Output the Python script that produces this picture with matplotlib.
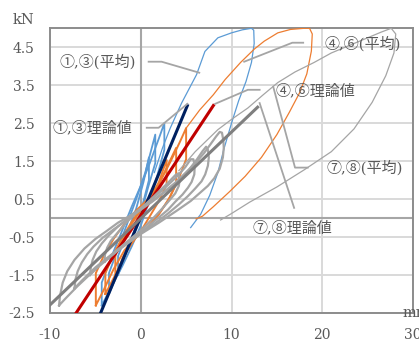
import matplotlib
matplotlib.use("Agg")
import matplotlib.pyplot as plt

# ---- data (kN vs mm) ----
# ①,③ average - small cycles and final big cycle
blue_loops = [
    [(-4.3, -2.3), (-4.3, -1.7), (-3.2, -1.0), (-2.0, -0.3), (-1.0, 0.3), (0.0, 0.85),
     (1.0, 1.45), (2.0, 2.1), (2.6, 2.5), (2.6, 1.8), (1.8, 1.1), (1.0, 0.5), (0.0, -0.2),
     (-1.0, -0.75), (-2.0, -1.25), (-3.2, -1.8), (-4.3, -2.3)],
    [(-3.5, -2.0), (-3.5, -1.45), (-2.5, -0.8), (-1.5, -0.15), (-0.5, 0.5), (0.5, 1.2),
     (1.6, 2.2), (1.6, 1.45), (0.8, 0.8), (0.0, 0.1), (-1.0, -0.55), (-2.2, -1.25),
     (-3.5, -2.0)],
    [(-2.5, -1.5), (-2.5, -1.0), (-1.5, -0.4), (-0.5, 0.25), (0.3, 0.95), (0.9, 1.6),
     (0.9, 1.0), (0.2, 0.35), (-0.8, -0.4), (-1.7, -0.95), (-2.5, -1.5)],
]
blue_big = [(1.5, 1.2), (2.4, 1.85), (3.25, 2.37), (4.5, 3.03), (6.15, 3.78), (7.07, 4.39),
            (8.5, 4.75), (10.0, 4.88), (11.2, 4.96), (12.2, 5.0), (12.45, 4.95), (12.5, 4.6),
            (12.2, 4.1), (11.6, 3.6), (10.8, 3.1), (10.0, 2.5), (9.2, 1.85), (8.5, 1.2),
            (7.6, 0.6), (6.6, 0.1), (5.5, -0.25)]

# ④,⑥ average
orange_loops = [
    [(-4.95, -2.3), (-4.95, -1.45), (-4.0, -0.95), (-3.0, -0.55), (-1.8, -0.15), (-0.5, 0.2),
     (0.8, 0.5), (2.0, 0.9), (3.3, 1.5), (4.3, 2.0), (5.0, 2.37), (5.0, 1.55), (4.2, 1.05),
     (3.2, 0.55), (2.0, 0.1), (0.8, -0.25), (-0.5, -0.5), (-1.8, -0.85), (-3.0, -1.35),
     (-4.1, -1.9), (-4.95, -2.3)],
    [(-3.9, -2.0), (-3.9, -1.45), (-3.0, -0.95), (-2.0, -0.5), (-1.0, -0.1), (0.0, 0.25),
     (1.0, 0.55), (2.0, 0.9), (3.1, 1.45), (3.9, 1.85), (3.9, 0.9), (3.0, 0.45), (1.8, 0.05),
     (0.5, -0.3), (-0.5, -0.5), (-1.5, -0.85), (-2.6, -1.4), (-3.9, -2.0)],
    [(-2.8, -1.58), (-2.8, -0.97), (-2.0, -0.6), (-1.0, -0.15), (0.0, 0.2), (1.0, 0.5),
     (2.0, 0.95), (2.85, 1.53), (2.85, 0.88), (2.0, 0.45), (1.0, 0.05), (0.0, -0.35),
     (-1.0, -0.65), (-2.0, -1.05), (-2.8, -1.58)],
]
orange_big = [(5.0, 2.37), (6.5, 2.85), (8.0, 3.25), (9.3, 3.65), (11.0, 4.1), (12.5, 4.45),
              (13.6, 4.66), (15.1, 4.88), (16.5, 4.97), (18.0, 5.0), (18.6, 5.0), (18.9, 4.85),
              (18.8, 4.4), (18.3, 3.8), (17.5, 3.3), (16.4, 2.8), (15.0, 2.2), (13.3, 1.6),
              (11.5, 1.1), (9.8, 0.7), (8.0, 0.3), (6.8, 0.05), (6.1, -0.02)]

# ⑦,⑧ average
gray_loops = [
    [(-9.0, -2.3), (-8.9, -2.05), (-8.6, -1.7), (-8.1, -1.4), (-7.3, -1.1), (-6.2, -0.8),
     (-5.0, -0.55), (-3.7, -0.33), (-2.5, -0.12), (-1.2, 0.06), (0.0, 0.25), (1.3, 0.45),
     (2.5, 0.68), (3.8, 0.93), (5.0, 1.2), (6.1, 1.47), (7.0, 1.72), (7.7, 1.95), (8.3, 2.15),
     (8.7, 2.27), (8.95, 2.25), (9.1, 2.05), (9.15, 1.85), (9.05, 1.6), (8.7, 1.3),
     (8.1, 1.05), (7.4, 0.85), (6.5, 0.66), (5.5, 0.45), (4.0, 0.2), (2.0, -0.12),
     (0.0, -0.42), (-2.5, -0.85), (-5.0, -1.35), (-7.0, -1.8), (-8.3, -2.12), (-9.0, -2.3)],
    [(-7.3, -1.85), (-7.2, -1.62), (-6.95, -1.4), (-6.5, -1.17), (-5.9, -0.95), (-5.2, -0.75),
     (-4.2, -0.52), (-3.0, -0.3), (-1.5, -0.05), (0.0, 0.22), (1.3, 0.44), (2.5, 0.66),
     (3.5, 0.86), (4.5, 1.08), (5.4, 1.3), (6.2, 1.55), (6.8, 1.76), (7.2, 1.88), (7.4, 1.8),
     (7.5, 1.6), (7.4, 1.38), (7.1, 1.15), (6.7, 0.97), (6.0, 0.78), (5.2, 0.58),
     (4.2, 0.36), (3.0, 0.12), (1.5, -0.15), (0.0, -0.4), (-2.5, -0.82), (-5.0, -1.3),
     (-6.5, -1.65), (-7.3, -1.85)],
    [(-5.6, -1.5), (-5.5, -1.3), (-5.3, -1.1), (-4.9, -0.88), (-4.3, -0.67), (-3.5, -0.45),
     (-2.5, -0.22), (-1.5, -0.02), (0.0, 0.25), (1.0, 0.45), (2.0, 0.66), (3.0, 0.87),
     (4.0, 1.1), (4.9, 1.34), (5.5, 1.55), (5.8, 1.55), (5.95, 1.38), (5.9, 1.15),
     (5.6, 0.95), (5.2, 0.8), (4.6, 0.62), (3.8, 0.43), (3.0, 0.22), (2.0, 0.02),
     (1.0, -0.18), (0.0, -0.38), (-2.0, -0.75), (-4.0, -1.12), (-5.0, -1.35), (-5.6, -1.5)],
    [(-4.0, -1.15), (-3.95, -0.97), (-3.7, -0.78), (-3.3, -0.6), (-2.6, -0.4), (-1.6, -0.12),
     (-0.8, 0.07), (0.0, 0.25), (1.0, 0.47), (2.0, 0.7), (3.0, 0.93), (3.8, 1.13),
     (4.15, 1.18), (4.3, 1.05), (4.2, 0.85), (3.8, 0.65), (3.2, 0.48), (2.4, 0.26),
     (1.5, 0.03), (0.7, -0.16), (0.0, -0.33), (-1.0, -0.52), (-2.0, -0.72), (-3.0, -0.93),
     (-4.0, -1.15)],
]
gray_big = [(4.2, 1.25), (6.0, 1.75), (8.5, 2.33), (10.0, 2.6), (11.8, 2.9), (13.5, 3.25),
            (15.1, 3.57), (17.0, 3.85), (19.1, 4.1), (21.0, 4.35), (23.0, 4.55), (25.0, 4.75),
            (26.5, 4.9), (27.6, 5.0), (28.1, 4.85), (27.9, 4.35), (27.0, 3.75), (25.5, 3.05),
            (23.5, 2.35), (21.0, 1.75), (18.0, 1.27), (15.0, 0.82), (12.0, 0.42), (10.0, 0.12),
            (8.8, -0.05)]

# theoretical lines
theory_13 = ([-4.6, 5.2], [-2.6, 3.0])
theory_46 = ([-7.4, 8.1], [-2.6, 3.0])
theory_78 = ([-10.5, 13.0], [-2.4, 2.95])

# labels with their leader lines
labels = ["①,③(平均)", "①,③理論値", "④,⑥(平均)", "④,⑥理論値", "⑦,⑧(平均)", "⑦,⑧理論値"]
label_pos = [(-8.96, 4.12), (-9.7, 2.38), (20.3, 4.6), (14.9, 3.36), (20.5, 1.33), (12.3, -0.26)]
leaders = [
    [(0.87, 4.12), (2.3, 4.12), (6.45, 3.83)],
    [(0.66, 2.38), (1.97, 2.38), (5.14, 3.01)],
    [(17.9, 4.62), (16.7, 4.62), (11.4, 4.12)],
    [(13.1, 3.38), (11.8, 3.38), (8.2, 3.01)],
    [(18.4, 1.33), (17.0, 1.33), (14.6, 3.46)],
    [(16.9, 0.27), (13.1, 3.03)],
]

yticks = [-2.5, -1.5, -0.5, 0.5, 1.5, 2.5, 3.5, 4.5]
xticks = [-10, 0, 10, 20, 30]

txt_col = '#595959'
jp_font = ['DejaVu Serif', 'Noto Sans CJK JP']

fig = plt.figure(figsize=(4.19, 3.45), dpi=100)
ax = fig.add_axes([50 / 419, 1 - 313 / 345, 363 / 419, (313 - 28.3) / 345])

ax.set_xlim(-10, 30)
ax.set_ylim(-2.5, 5)
ax.set_yticks(yticks)
ax.set_xticks(xticks)
ax.set_yticklabels([str(v) for v in yticks])
ax.set_xticklabels([str(v) for v in xticks])
ax.tick_params(length=0, pad=11, labelsize=10, labelcolor=txt_col)
for lab in ax.get_xticklabels() + ax.get_yticklabels():
    lab.set_family('DejaVu Serif')
ax.grid(True, color='#D9D9D9', lw=1.4)
ax.set_axisbelow(True)
for s in ax.spines.values():
    s.set_color('#8C8C8C')
    s.set_linewidth(1.4)
ax.axhline(0, color='#A6A6A6', lw=1.5, zorder=1.5)
ax.axvline(0, color='#A6A6A6', lw=1.5, zorder=1.5)

for loop in blue_loops:
    xs, ys = zip(*loop)
    ax.plot(xs, ys, color='#5B9BD5', lw=1.3, zorder=3)
xs, ys = zip(*blue_big)
ax.plot(xs, ys, color='#5B9BD5', lw=0.9, zorder=3)

for loop in orange_loops:
    xs, ys = zip(*loop)
    ax.plot(xs, ys, color='#ED7D31', lw=1.4, zorder=3)
xs, ys = zip(*orange_big)
ax.plot(xs, ys, color='#ED7D31', lw=0.9, zorder=3)

ax.plot(*theory_13, color='#002060', lw=2.2, zorder=4, solid_capstyle='butt')
ax.plot(*theory_46, color='#C00000', lw=2.2, zorder=4, solid_capstyle='butt')

for loop in gray_loops:
    xs, ys = zip(*loop)
    ax.plot(xs, ys, color='#A5A5A5', lw=1.6, zorder=5)
xs, ys = zip(*gray_big)
ax.plot(xs, ys, color='#A5A5A5', lw=0.9, zorder=5)

ax.plot(*theory_78, color='#7F7F7F', lw=2.2, zorder=5, solid_capstyle='butt')

for pts in leaders:
    xs, ys = zip(*pts)
    ax.plot(xs, ys, color='#A5A5A5', lw=1.3, zorder=6, clip_on=False)

for t, (x, y) in zip(labels, label_pos):
    ax.text(x, y, t, fontsize=10.8, color=txt_col, family=jp_font,
            ha='left', va='center', zorder=7)

fig.text(24 / 419, 1 - 20 / 345, 'kN', fontsize=10.5, color=txt_col,
         family='DejaVu Serif', ha='center', va='center')
fig.text(402 / 419, 1 - 313 / 345, 'mm', fontsize=10.5, color=txt_col,
         family='DejaVu Serif', ha='left', va='center')

fig.savefig('out.png', dpi=100)
